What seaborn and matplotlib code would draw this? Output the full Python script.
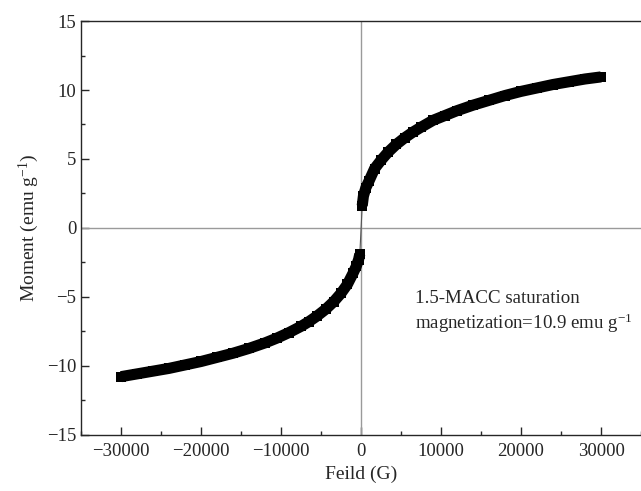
import numpy as np
import pandas as pd
import matplotlib
matplotlib.use('Agg')
import matplotlib.pyplot as plt
from matplotlib.ticker import MultipleLocator
import seaborn as sns

# Magnetization curve (field in G, moment in emu/g)
field_neg = [-30000, -28000, -26000, -24000, -22000, -20000, -18000, -16000,
             -14000, -12000, -10500, -9000, -7500, -6500, -5500, -4400,
             -3400, -2500, -1700, -1000, -600, -300, -150]
moment_neg = [-10.8, -10.6, -10.4, -10.2, -9.95, -9.7, -9.4, -9.1,
              -8.75, -8.35, -8.0, -7.6, -7.15, -6.8, -6.4, -5.9,
              -5.35, -4.75, -4.1, -3.3, -2.8, -2.3, -1.9]
field_pos = [150, 300, 600, 1000, 1700, 2500, 3400, 4400, 5500, 6500,
             7500, 9000, 10500, 12000, 14000, 16000, 18000, 20000, 22000,
             24000, 26000, 28000, 30000]
moment_pos = [1.6, 2.3, 2.9, 3.4, 4.3, 4.9, 5.5, 6.05, 6.55, 6.95,
              7.3, 7.8, 8.15, 8.5, 8.9, 9.25, 9.6, 9.9, 10.15,
              10.4, 10.6, 10.8, 10.95]

neg = pd.DataFrame({'field': field_neg, 'moment': moment_neg})
pos = pd.DataFrame({'field': field_pos, 'moment': moment_pos})
both = pd.concat([neg, pos], ignore_index=True)

sns.set_style('ticks')
plt.rcParams['font.family'] = ['Liberation Serif', 'DejaVu Serif']
plt.rcParams['mathtext.fontset'] = 'custom'
plt.rcParams['mathtext.rm'] = 'Liberation Serif'
plt.rcParams['mathtext.it'] = 'Liberation Serif:italic'

fig = plt.figure(figsize=(6.41, 4.91), dpi=100)
ax = fig.add_axes([0.1264, 0.115, 0.8736, 0.842])

# crosshair through the origin
ax.axvline(0, color='#9a9a9a', lw=1, zorder=1)
ax.axhline(0, color='#9a9a9a', lw=1, zorder=1)

# thin connection across zero, then the thick branches
sns.lineplot(data=both, x='field', y='moment', sort=False, estimator=None,
             color='#555555', lw=0.8, ax=ax, zorder=2)
for part in (neg, pos):
    sns.lineplot(data=part, x='field', y='moment', sort=False, estimator=None,
                 color='black', lw=8, marker='s', markersize=7.5,
                 markeredgewidth=0, solid_capstyle='butt', ax=ax, zorder=3)

ax.set_xlim(-35000, 35000)
ax.set_ylim(-15, 15)
ax.xaxis.set_major_locator(MultipleLocator(10000))
ax.xaxis.set_minor_locator(MultipleLocator(5000))
ax.yaxis.set_major_locator(MultipleLocator(5))
ax.yaxis.set_minor_locator(MultipleLocator(2.5))
ax.tick_params(which='both', direction='in', labelsize=13.5, width=1)
ax.tick_params(which='major', length=6)
ax.tick_params(which='minor', length=3)
ax.tick_params(axis='x', pad=6)
for s in ax.spines.values():
    s.set_linewidth(1)
ax.spines['right'].set_visible(False)

ax.set_xlabel('Feild (G)', fontsize=14)
ax.set_ylabel('Moment (emu g$^{\\mathregular{-1}}$)', fontsize=14)

ax.text(6800, -5.1, '1.5-MACC saturation', fontsize=13.6, va='center')
ax.text(6800, -6.9, 'magnetization=10.9 emu g$^{\\mathregular{-1}}$',
        fontsize=13.6, va='center')

fig.savefig('out.png', dpi=100)
